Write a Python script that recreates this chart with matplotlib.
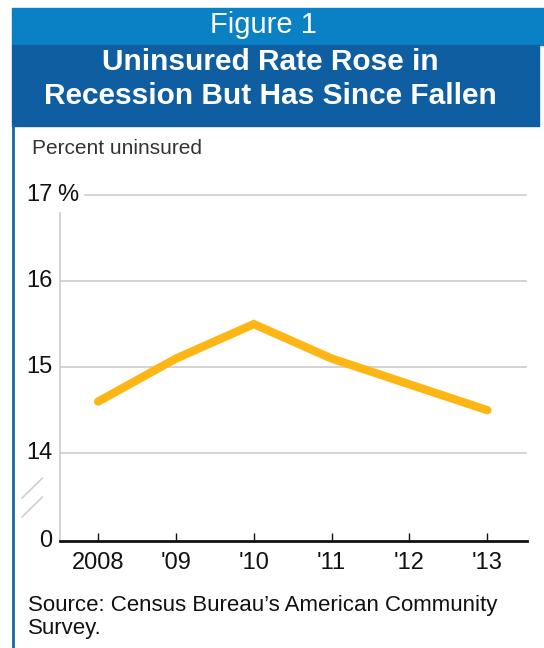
import numpy as np
import matplotlib
matplotlib.use("Agg")
import matplotlib.pyplot as plt
from matplotlib.patches import Rectangle
from matplotlib.lines import Line2D

# data
years = ["2008", "'09", "'10", "'11", "'12", "'13"]
uninsured = [14.6, 15.1, 15.5, 15.1, 14.8, 14.5]
ytick_vals = [0, 14, 15, 16, 17]

W, H = 544, 648
BREAK_BASE = 12.98  # where 0 sits after the axis break
YTOP = 17.1

def ypos(v):
    return BREAK_BASE if v == 0 else v

sans = "Liberation Sans"
fig = plt.figure(figsize=(W / 100, H / 100), dpi=100)

def fx(px):
    return px / W

def fy(py):
    return 1 - py / H

# header bands and left border
fig.patches.append(Rectangle((fx(12), fy(45)), fx(532), 37 / H, transform=fig.transFigure,
                             color="#0a80c5", zorder=0))
fig.patches.append(Rectangle((fx(12), fy(126)), fx(527), 81 / H, transform=fig.transFigure,
                             color="#0f5ea2", zorder=0))
fig.lines.append(Line2D([fx(13), fx(13)], [fy(126), fy(648)], transform=fig.transFigure,
                        color="#1a62a8", lw=2))
fig.text(fx(263), fy(25), "Figure 1", color="white", fontsize=21, family=sans,
         ha="center", va="center")
fig.text(fx(270), fy(79), "Uninsured Rate Rose in\nRecession But Has Since Fallen", color="white",
         fontsize=21.5, family=sans, weight="bold", ha="center", va="center",
         linespacing=1.3)
fig.text(fx(32), fy(148), "Percent uninsured", fontsize=15, family=sans, color="#333333",
         ha="left", va="center")
fig.text(fx(28), fy(617), "Source: Census Bureau\u2019s American Community\nSurvey.", fontsize=16,
         family=sans, color="#111111", ha="left", va="center", linespacing=1.15)

# plot area
top_px = 195 - (YTOP - 17) * 86
ax = fig.add_axes([fx(60), fy(541), fx(467), (541 - top_px) / H])
x = np.arange(len(years))
ax.set_xlim(-0.49, 5.51)
ax.set_ylim(BREAK_BASE, YTOP)

for v in ytick_vals[1:]:
    xmin = 0.054 if v == 17 else 0
    ax.axhline(v, xmin=xmin, xmax=0.998, color="#c8c8c8", lw=1.1, zorder=1)
for v in ytick_vals:
    ax.text(-0.016, ypos(v), str(v), transform=ax.get_yaxis_transform(), ha="right",
            va="center", fontsize=17, family=sans, color="#111111")
ax.text(-0.006, 17, "%", transform=ax.get_yaxis_transform(), ha="left", va="center",
        fontsize=17, family=sans, color="#111111")

ax.plot(x, uninsured, color="#fdb614", lw=6, solid_capstyle="round", solid_joinstyle="miter",
        zorder=3)

for s in ["top", "right"]:
    ax.spines[s].set_visible(False)
ax.spines["left"].set_color("#c8c8c8")
ax.spines["left"].set_linewidth(1.1)
ax.spines["left"].set_bounds(BREAK_BASE, 16.79)
ax.spines["bottom"].set_linewidth(2)
ax.spines["bottom"].set_color("#111111")
ax.set_yticks([])
ax.set_xticks(x)
ax.set_xticklabels(years, fontsize=17, family=sans, color="#111111")
ax.tick_params(axis="x", direction="in", length=6, width=1, color="#111111", pad=8)

# axis break marks
for y0 in [13.26, 13.48]:
    ax.plot([-0.081, -0.038], [y0, y0 + 0.23], transform=ax.get_yaxis_transform(),
            color="#d0d0d0", lw=1.2, clip_on=False)

fig.savefig("out.png", dpi=100)
